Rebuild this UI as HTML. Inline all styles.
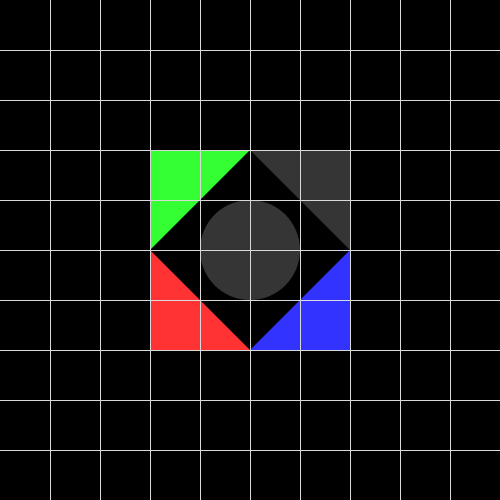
<!DOCTYPE html>
<html>
<head>
<meta charset="utf-8">
<style>
html,body{margin:0;padding:0;background:#000;}
svg{display:block;}
</style>
</head>
<body>
<svg width="500" height="500" viewBox="0 0 500 500">
<rect x="0" y="0" width="500" height="500" fill="#000"/>
<polygon points="150,150 250,150 150,250" fill="#33ff33"/>
<polygon points="250,150 350,150 350,250" fill="#353535"/>
<polygon points="150,250 150,350 250,350" fill="#ff3333"/>
<polygon points="350,250 350,350 250,350" fill="#3333ff"/>
<circle cx="250" cy="250" r="50" fill="#353535"/>
<g id="grid" stroke="#d9d9d9" stroke-width="1"></g>
</svg>
<script>
const gridStep = 50;
const g = document.getElementById('grid');
for (let v = gridStep; v < 500; v += gridStep) {
  const a = document.createElementNS('http://www.w3.org/2000/svg','line');
  a.setAttribute('x1', v + 0.5); a.setAttribute('x2', v + 0.5);
  a.setAttribute('y1', 0); a.setAttribute('y2', 500);
  
  
  g.appendChild(a);
  const b = document.createElementNS('http://www.w3.org/2000/svg','line');
  b.setAttribute('y1', v + 0.5); b.setAttribute('y2', v + 0.5);
  b.setAttribute('x1', 0); b.setAttribute('x2', 500);
  
  
  g.appendChild(b);
}
</script>
</body>
</html>
